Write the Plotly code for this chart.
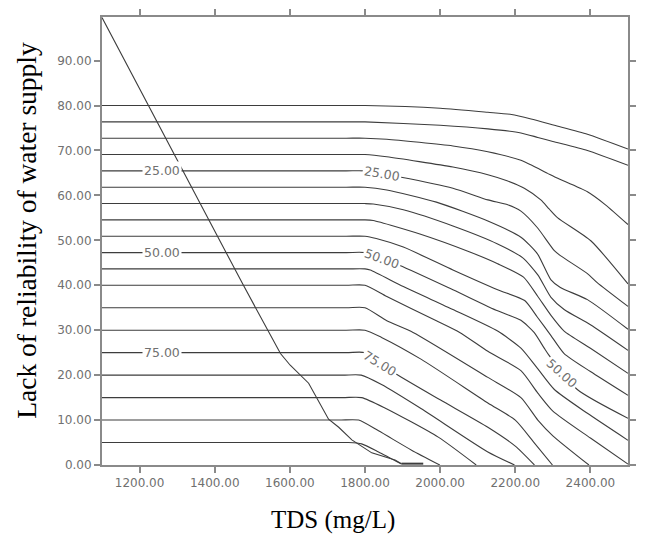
import plotly.graph_objects as go

# ---- contour levels: x / y points ----
levels = [5, 10, 15, 20, 25, 30, 35, 40, 45, 50, 55, 60, 65, 70, 75, 80, 85, 90, 95, 100]

L05_x = [1100, 1750, 1800, 2000, 2127, 2190, 2242, 2304, 2392, 2500]
L05_y = [80.0, 80.0, 80.0, 79.4, 78.5, 78.0, 77.0, 75.6, 73.6, 70.3]
L10_x = [1100, 1750, 1800, 2000, 2127, 2215, 2260, 2300, 2392, 2500]
L10_y = [76.36, 76.36, 76.36, 75.6, 74.8, 73.9, 72.9, 72.0, 70.0, 66.7]
L15_x = [1100, 1750, 1800, 1858, 2034, 2127, 2215, 2286, 2313, 2392, 2440, 2500]
L15_y = [72.73, 72.73, 72.73, 72.5, 71.0, 69.7, 67.8, 64.9, 63.8, 60.8, 57.9, 53.5]
L20_x = [1100, 1750, 1800, 1858, 2034, 2127, 2180, 2224, 2268, 2290, 2313, 2401, 2500]
L20_y = [69.09, 69.09, 69.09, 68.6, 66.3, 64.6, 63.2, 61.6, 59.0, 57.0, 55.0, 49.9, 40.3]
L25_x = [1100, 1750, 1800, 1893, 2034, 2127, 2180, 2215, 2259, 2304, 2320, 2392, 2418, 2500]
L25_y = [65.45, 65.45, 65.45, 64.1, 61.6, 59.0, 57.9, 56.5, 52.8, 47.7, 46.6, 42.6, 40.6, 35.3]
L30_x = [1100, 1750, 1800, 1858, 1990, 2127, 2215, 2259, 2295, 2320, 2392, 2500]
L30_y = [61.82, 61.82, 61.82, 61.2, 58.5, 54.3, 50.7, 47.0, 41.2, 39.5, 36.8, 30.2]
L35_x = [1100, 1750, 1800, 1822, 1902, 2034, 2153, 2220, 2260, 2295, 2330, 2400, 2500]
L35_y = [58.18, 58.18, 58.18, 58.1, 56.8, 53.2, 49.2, 46.1, 42.3, 37.3, 34.6, 31.2, 25.5]
L40_x = [1100, 1750, 1800, 1822, 1946, 2079, 2153, 2222, 2260, 2295, 2330, 2400, 2500]
L40_y = [54.55, 54.55, 54.55, 54.4, 51.4, 47.4, 44.8, 41.8, 37.5, 33.3, 29.8, 26.0, 20.4]
L45_x = [1100, 1750, 1800, 1830, 1902, 2034, 2153, 2225, 2258, 2295, 2330, 2400, 2500]
L45_y = [50.91, 50.91, 50.91, 50.4, 48.5, 43.4, 39.0, 36.6, 33.0, 28.8, 24.8, 20.8, 15.5]
L50_x = [1100, 1750, 1800, 1893, 2034, 2153, 2215, 2250, 2277, 2289, 2365, 2500]
L50_y = [47.27, 47.27, 47.27, 44.4, 39.0, 34.3, 32.2, 29.5, 26.0, 24.5, 16.8, 10.4]
L55_x = [1100, 1750, 1800, 1814, 1902, 2034, 2153, 2215, 2259, 2304, 2392, 2500]
L55_y = [43.64, 43.64, 43.64, 43.4, 39.7, 34.6, 29.8, 26.0, 21.5, 16.8, 11.5, 5.5]
L60_x = [1100, 1750, 1800, 1858, 1990, 2052, 2127, 2215, 2260, 2300, 2400, 2500]
L60_y = [40.0, 40.0, 40.0, 37.5, 32.1, 29.5, 25.3, 21.0, 16.0, 12.0, 6.0, 0.2]
L65_x = [1100, 1750, 1800, 1858, 1928, 2127, 2215, 2260, 2300, 2396]
L65_y = [35.0, 35.0, 35.0, 32.1, 29.5, 19.5, 15.0, 10.0, 6.5, 0.0]
L70_x = [1100, 1750, 1800, 1844, 1950, 2127, 2200, 2250, 2299]
L70_y = [30.0, 30.0, 30.0, 28.4, 23.5, 13.8, 10.0, 5.0, 0.0]
L75_x = [1100, 1750, 1800, 1884, 2000, 2127, 2200, 2251]
L75_y = [25.0, 25.0, 25.0, 20.2, 14.5, 8.4, 4.2, 0.0]
L80_x = [1100, 1740, 1790, 1844, 1950, 2127, 2198]
L80_y = [20.0, 20.0, 20.0, 17.9, 12.5, 2.9, 0.0]
L85_x = [1100, 1740, 1791, 1853, 1995, 2096]
L85_y = [15.0, 15.0, 15.0, 12.7, 6.2, 0.0]
L90_x = [1100, 1730, 1783, 1836, 1924, 1999]
L90_y = [10.0, 10.0, 10.0, 7.6, 3.3, 0.0]
L95_x = [1100, 1700, 1756, 1791, 1836, 1897]
L95_y = [5.0, 5.0, 5.0, 4.7, 2.9, 0.2]
L100_x = [1897, 1955]
L100_y = [0.3, 0.3]

# boundary curve
bound_x = [1100, 1363, 1475, 1575, 1601, 1650, 1703, 1730, 1765, 1818, 1880, 1897]
bound_y = [99.6, 57.9, 40.2, 24.8, 22.2, 18.2, 10.2, 8.4, 5.6, 2.7, 1.1, 0.3]

# contour labels: text, x, y, angle
lab_text = ["25.00", "50.00", "75.00", "25.00", "50.00", "75.00", "50.00"]
lab_x = [1260, 1260, 1260, 1844, 1844, 1840, 2325]
lab_y = [65.45, 47.27, 25.0, 64.8, 45.9, 22.6, 20.4]
lab_ang = [0, 0, 0, 10, 20, 32, 42]

xticks = [1200, 1400, 1600, 1800, 2000, 2200, 2400]
yticks = [0, 10, 20, 30, 40, 50, 60, 70, 80, 90]

lines_x = [L05_x, L10_x, L15_x, L20_x, L25_x, L30_x, L35_x, L40_x, L45_x, L50_x,
           L55_x, L60_x, L65_x, L70_x, L75_x, L80_x, L85_x, L90_x, L95_x, L100_x]
lines_y = [L05_y, L10_y, L15_y, L20_y, L25_y, L30_y, L35_y, L40_y, L45_y, L50_y,
           L55_y, L60_y, L65_y, L70_y, L75_y, L80_y, L85_y, L90_y, L95_y, L100_y]

LINE_COL = "#3d3d3d"
GRAY = "#707070"
AX_COL = "#8a8a8a"

fig = go.Figure()
for lv, xs, ys in zip(levels, lines_x, lines_y):
    fig.add_trace(go.Scatter(
        x=xs, y=ys, mode="lines", name=str(lv),
        line=dict(color=LINE_COL, width=2 if lv == 100 else 1.1,
                  shape="spline", smoothing=0.6),
        hoverinfo="skip", showlegend=False))

fig.add_trace(go.Scatter(x=bound_x, y=bound_y, mode="lines",
                         line=dict(color=LINE_COL, width=1.1),
                         hoverinfo="skip", showlegend=False))

for t, x, y, a in zip(lab_text, lab_x, lab_y, lab_ang):
    fig.add_annotation(x=x, y=y, xref="x", yref="y", text=t, showarrow=False,
                       textangle=a, bgcolor="white", borderpad=1,
                       font=dict(family="DejaVu Sans", size=12.5, color=GRAY))

axis_common = dict(showline=True, linecolor=AX_COL, linewidth=2, mirror="ticks",
                   ticks="outside", ticklen=6, tickwidth=1.5, tickcolor=AX_COL,
                   showgrid=False, zeroline=False, tickformat=".2f",
                   tickfont=dict(family="DejaVu Sans", size=12, color=GRAY))

fig.update_layout(
    width=645, height=538,
    margin=dict(l=102, r=13, t=9, b=73),
    paper_bgcolor="white", plot_bgcolor="white",
    xaxis=dict(range=[1100, 2500], tickvals=xticks, **axis_common),
    yaxis=dict(range=[0, 99.7], tickvals=yticks, **axis_common),
)

fig.add_annotation(text="TDS (mg/L)", xref="paper", yref="paper", x=0.44, y=-0.123,
                   showarrow=False, xanchor="center", yanchor="middle",
                   font=dict(family="Liberation Serif", size=25, color="black"))
fig.add_annotation(text="Lack of reliability of water supply", xref="paper", yref="paper",
                   x=-0.1425, y=0.523, showarrow=False, textangle=-90,
                   xanchor="center", yanchor="middle",
                   font=dict(family="Liberation Serif", size=27.5, color="black"))

fig.write_html("out.html")
